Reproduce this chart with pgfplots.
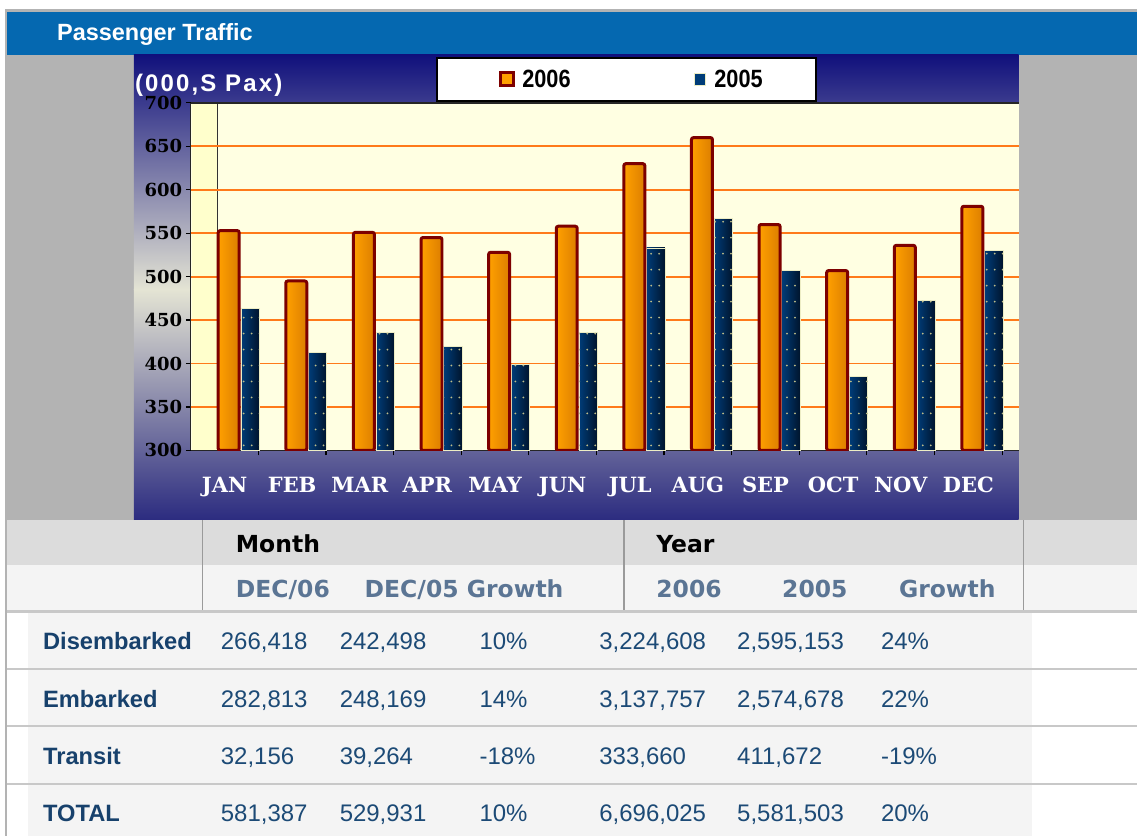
\documentclass[border=0pt]{standalone}
\usepackage{fontspec}
\setmainfont{Liberation Sans}
\newfontfamily\verd{DejaVu Sans}
\newfontfamily\slab{DejaVu Serif}
\newfontfamily\narrow{Liberation Sans}[FakeStretch=0.87]
\newfontfamily\paxfont{Liberation Sans}[LetterSpace=9]
\usepackage{pgfplots}
\usepackage{pgfplotstable}
\pgfplotsset{compat=1.18}
\usetikzlibrary{patterns}

\definecolor{hdrblue}{HTML}{0568B0}
\definecolor{panelgray}{HTML}{B3B3B3}
\definecolor{rowgray}{HTML}{DCDCDC}
\definecolor{rowlight}{HTML}{F4F4F4}
\definecolor{linegray}{HTML}{C8C8C8}
\definecolor{sepgray}{HTML}{9A9A9A}
\definecolor{slate}{HTML}{5B7594}
\definecolor{datablue}{HTML}{1C4A76}
\definecolor{labblue}{HTML}{17416C}
\definecolor{navytop}{HTML}{10107C}
\definecolor{bgmid}{HTML}{E4E4D4}
\definecolor{navybot}{HTML}{2C2C80}
\definecolor{plotbg}{HTML}{FFFFE2}
\definecolor{stripbg}{HTML}{FFFFCC}
\definecolor{gridor}{HTML}{FF7A1A}
\definecolor{orL}{HTML}{FFA000}
\definecolor{orR}{HTML}{DC7E00}
\definecolor{barred}{HTML}{7D0000}
\definecolor{nvL}{HTML}{003C78}
\definecolor{nvR}{HTML}{00142C}
\definecolor{cream}{HTML}{EDEDC4}
\definecolor{dotcol}{HTML}{BDBD8A}

\pgfdeclarepatternformonly{navydots}{\pgfpoint{-1pt}{-1pt}}{\pgfpoint{9pt}{17pt}}{\pgfpoint{8pt}{16pt}}{\pgfpathcircle{\pgfpoint{4pt}{8pt}}{1pt}\pgfusepath{fill}}

\pgfplotstableread{
m v
0 553
1 495
2 551
3 545
4 528
5 558
6 630
7 660
8 560
9 507
10 536
11 581
}\tsix
\pgfplotstableread{
m v
0 463
1 413
2 436
3 420
4 399
5 436
6 533
7 567
8 507
9 385
10 473
11 530
}\tfive

\newcommand\ytf{\slab\bfseries\fontsize{18}{20}\selectfont}
\newcommand\xtf{\slab\bfseries\fontsize{21}{23}\selectfont}
\newcommand\hdf{\verd\bfseries\fontsize{23.5}{25}\selectfont}
\newcommand\lbf{\bfseries\fontsize{23.7}{25}\selectfont}
\newcommand\vlf{\fontsize{24}{26}\selectfont}

\begin{document}
\begin{tikzpicture}
\begin{scope}[x=1pt,y=-1pt]
\path[use as bounding box] (0,0) rectangle (1138,837);
\fill[white] (0,0) rectangle (1138,837);
\fill[panelgray] (5,9) rectangle (1138,837);
\fill[hdrblue] (7,12) rectangle (1138,55);
\node[anchor=base west, inner sep=0pt, text=white, font=\bfseries\fontsize{23.5}{25}\selectfont] at (57,41) {Passenger Traffic};
\fill[panelgray] (7,55) rectangle (1138,520);
\end{scope}
% chart background shading
\shade[top color=navytop, bottom color=bgmid] (134pt,-55pt) rectangle (1020pt,-290pt);
\shade[top color=bgmid, bottom color=navybot] (134pt,-290pt) rectangle (1020pt,-520pt);
\begin{scope}[x=1pt,y=-1pt]
\fill[plotbg] (191,103) rectangle (1020,451);
\fill[stripbg] (192,103) rectangle (218,451);
\draw[black!80, line width=1pt] (218,103) -- (218,451);
\node[anchor=base west, inner sep=0pt, text=white, font=\paxfont\bfseries\fontsize{24}{26}\selectfont] at (135,92) {(000,S Pax)};
% table
\fill[rowgray] (7,521) rectangle (1138,566);
\fill[rowlight] (7,566) rectangle (1138,611);
\fill[white] (7,611) rectangle (1138,837);
\fill[rowlight] (28,613) rectangle (1033,837);
\draw[linegray, line width=3pt] (7,612) -- (1138,612);
\foreach \yy in {670,727,785} {\draw[linegray, line width=2pt] (7,\yy) -- (1138,\yy);}
\foreach \xx in {203,625,1025} {\draw[sepgray, line width=1.5pt] (\xx,521) -- (\xx,611);}
\draw[panelgray, line width=2pt] (6,611) -- (6,837);
\node[anchor=base west, inner sep=0pt, text=black, font=\hdf] at (236,553) {Month};
\node[anchor=base west, inner sep=0pt, text=black, font=\hdf] at (657,553) {Year};
\node[anchor=base west, inner sep=0pt, text=slate, font=\hdf] at (236,598) {DEC/06};
\node[anchor=base west, inner sep=0pt, text=slate, font=\hdf] at (365,598) {DEC/05 Growth};
\node[anchor=base west, inner sep=0pt, text=slate, font=\hdf] at (657,598) {2006};
\node[anchor=base west, inner sep=0pt, text=slate, font=\hdf] at (783,598) {2005};
\node[anchor=base west, inner sep=0pt, text=slate, font=\hdf] at (900,598) {Growth};
\foreach \yb/\lab/\a/\b/\c/\d/\e/\f in {
  650/Disembarked/266{,}418/242{,}498/10\%/3{,}224{,}608/2{,}595{,}153/24\%,
  708/Embarked/282{,}813/248{,}169/14\%/3{,}137{,}757/2{,}574{,}678/22\%,
  765/Transit/32{,}156/39{,}264/-18\%/333{,}660/411{,}672/-19\%,
  823/TOTAL/581{,}387/529{,}931/10\%/6{,}696{,}025/5{,}581{,}503/20\%} {
  \node[anchor=base west, inner sep=0pt, text=labblue, font=\lbf] at (43,\yb) {\lab};
  \node[anchor=base west, inner sep=0pt, text=datablue, font=\vlf] at (221,\yb) {\a};
  \node[anchor=base west, inner sep=0pt, text=datablue, font=\vlf] at (340,\yb) {\b};
  \node[anchor=base west, inner sep=0pt, text=datablue, font=\vlf] at (480,\yb) {\c};
  \node[anchor=base west, inner sep=0pt, text=datablue, font=\vlf] at (600,\yb) {\d};
  \node[anchor=base west, inner sep=0pt, text=datablue, font=\vlf] at (738,\yb) {\e};
  \node[anchor=base west, inner sep=0pt, text=datablue, font=\vlf] at (882,\yb) {\f};
}
\end{scope}

\begin{axis}[
  at={(191pt,-451pt)}, anchor=south west,
  scale only axis, width=829pt, height=348pt,
  xmin=-0.5, xmax=11.745, ymin=300, ymax=700,
  axis lines*=left,
  axis line style={draw=black!85, line width=1.5pt},
  xtick={0.5,1.5,...,11.5}, xticklabels={},
  extra x ticks={0,1,2,3,4,5,6,7,8,9,10,11},
  extra x tick labels={JAN,FEB,MAR,APR,MAY,JUN,JUL,AUG,SEP,OCT,NOV,DEC},
  extra x tick style={major tick length=0pt, grid=none},
  xticklabel style={font=\xtf, text=white, anchor=base, yshift=-42pt},
  ytick={300,350,...,700},
  yticklabel style={font=\ytf, text=black},
  ymajorgrids,
  major grid style={draw=gridor, line width=1.8pt},
  tick align=outside,
  major tick length=5pt,
  tick style={draw=black, line width=1.2pt},
  /pgf/number format/assume math mode=true,
  legend columns=2,
  legend cell align=left,
  legend style={at={(0.2967,1.132)}, anchor=north west, draw=black, line width=2pt, fill=white,
    inner xsep=0pt, inner ysep=12pt, nodes={inner sep=0pt},
    font=\narrow\bfseries\fontsize{25}{26}\selectfont},
]
\addlegendimage{legend image code/.code={\path[draw=none,fill=none] (-62pt,0pt) -- (23pt,0pt); \draw[barred, line width=3pt, fill=orL] (1.5pt,-6.5pt) rectangle (14.5pt,6.5pt);}}
\addlegendentry{2006}
\addlegendimage{legend image code/.code={\path[draw=none,fill=none] (-124pt,0pt) -- (20pt,0pt); \draw[cream, line width=1pt, fill=nvL] (0.5pt,-6pt) rectangle (11.5pt,6pt);}}
\addlegendentry{2005\hspace*{53pt}}
\pgfplotsinvokeforeach{0,...,11}{
  \addplot[ybar, bar width=0.27, bar shift=0.378, draw=cream, line width=0.8pt, left color=nvL, right color=nvR, forget plot, restrict x to domain=#1:#1] table[x=m,y=v]{\tfive};
}
\addplot[ybar, bar width=0.27, bar shift=0.378, draw=none, pattern=navydots, pattern color=dotcol, forget plot] table[x=m,y=v]{\tfive};
\pgfplotsinvokeforeach{0,...,11}{
  \addplot[ybar, bar width=0.31, bar shift=0.061, draw=barred, line width=3pt, rounded corners=2pt, left color=orL, right color=orR, forget plot, restrict x to domain=#1:#1] table[x=m,y=v]{\tsix};
}
\end{axis}

\begin{scope}[x=1pt,y=-1pt]
\draw[black!85, line width=1.5pt] (191,103) -- (1020,103);
\end{scope}
\end{tikzpicture}
\end{document}
